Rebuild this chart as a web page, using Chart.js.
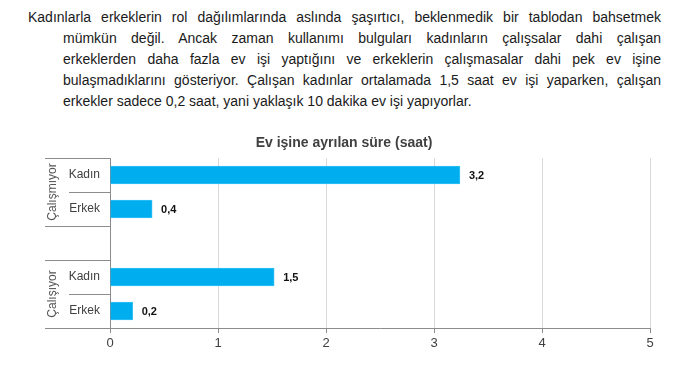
<!DOCTYPE html>
<html>
<head>
<meta charset="utf-8">
<script src="https://cdn.jsdelivr.net/npm/chart.js@4.4.1/dist/chart.umd.min.js"></script>
<style>
    body { margin:0; background:#fff; width:697px; height:379px; overflow:hidden; position:relative; }
    .txt { position:absolute; left:28px; top:7px; width:633px; font-family:"Liberation Sans", Arial, sans-serif; font-size:14px; line-height:21px; color:#1a1a1a; }
    .txt div { text-align:justify; text-align-last:justify; white-space:nowrap; }
    .txt div.in { padding-left:35px; white-space:normal; }
    .txt div.last { text-align-last:left; }
    #wrap { position:absolute; left:0; top:125px; width:697px; height:254px; }
</style>
</head>
<body>

<div class="txt">
    <div style="white-space:normal">Kadınlarla erkeklerin rol dağılımlarında aslında şaşırtıcı, beklenmedik bir tablodan bahsetmek</div>
    <div class="in">mümkün değil. Ancak zaman kullanımı bulguları kadınların çalışsalar dahi çalışan</div>
    <div class="in">erkeklerden daha fazla ev işi yaptığını ve erkeklerin çalışmasalar dahi pek ev işine</div>
    <div class="in">bulaşmadıklarını gösteriyor. Çalışan kadınlar ortalamada 1,5 saat ev işi yaparken, çalışan</div>
    <div class="in last">erkekler sadece 0,2 saat, yani yaklaşık 10 dakika ev işi yapıyorlar.</div>
</div>

<div id="wrap"><canvas id="chart"></canvas></div>

<script>
// ===============================
// Data
// ===============================

const chartTitle = "Ev işine ayrılan süre (saat)";
const categories = ["Kadın", "Erkek", "", "Kadın", "Erkek"];
const hours = [3.24, 0.39, null, 1.52, 0.21];
const groupLabels = ["Çalışmıyor", "Çalışıyor"];
const groupStart = [0, 3];
const groupEnd = [1, 4];
const xTicks = [0, 1, 2, 3, 4, 5];

const fontFamily = '"Liberation Sans", Arial, sans-serif';

// ===============================
// Extras: title, group labels, separators, value labels
// ===============================

const extras = {
    id: "extras",
    afterDraw(chart){

        const ctx = chart.ctx;
        const y = chart.scales.y;
        const area = chart.chartArea;
        const half = (y.getPixelForValue(1) - y.getPixelForValue(0)) / 2;

        ctx.save();

        // title
        ctx.fillStyle = "#404040";
        ctx.font = "bold 14px " + fontFamily;
        ctx.textAlign = "center";
        ctx.textBaseline = "middle";
        ctx.fillText(chartTitle, 344, 18);

        // separators left of the axis
        ctx.strokeStyle = "#8c8c8c";
        ctx.lineWidth = 1;
        for(let k = 0; k <= categories.length; k++){
            const by = Math.round(y.getPixelForValue(k) - half) + 0.5;
            let x0 = null;
            if(groupStart.includes(k) || groupEnd.includes(k-1)) x0 = 45;
            else if(k > 0 && k < categories.length && categories[k] !== "" && categories[k-1] !== "") x0 = 69;
            if(x0 === null) continue;
            ctx.beginPath();
            ctx.moveTo(x0, by);
            ctx.lineTo(area.left, by);
            ctx.stroke();
        }

        // group labels
        ctx.fillStyle = "#555";
        ctx.font = "12px " + fontFamily;
        groupLabels.forEach((g, i)=>{
            const cy = (y.getPixelForValue(groupStart[i]) + y.getPixelForValue(groupEnd[i])) / 2;
            ctx.save();
            ctx.translate(53, cy);
            ctx.rotate(-Math.PI/2);
            ctx.fillText(g, 0, 0);
            ctx.restore();
        });

        // value labels
        ctx.fillStyle = "#111";
        ctx.font = "bold 11px " + fontFamily;
        ctx.textAlign = "left";
        chart.getDatasetMeta(0).data.forEach((bar, i)=>{
            if(hours[i] === null) return;
            ctx.fillText(hours[i].toFixed(1).replace(".", ","), bar.x + 9, bar.y + 1);
        });

        ctx.restore();
    }
};

// ===============================
// Chart
// ===============================

const chart = new Chart(document.getElementById("chart"), {
    type: "bar",
    data: {
        labels: categories,
        datasets: [{
            data: hours,
            backgroundColor: "#00aeef",
            borderColor: "#33c0f2",
            borderWidth: 1,
            barThickness: 18
        }]
    },
    options: {
        indexAxis: "y",
        responsive: true,
        maintainAspectRatio: false,
        animation: false,
        layout: { padding: { top: 33, right: 47, left: 0, bottom: 0 } },
        plugins: {
            legend: { display: false },
            tooltip: { enabled: false }
        },
        scales: {
            x: {
                min: 0,
                max: 5,
                afterBuildTicks: (s)=>{ s.ticks = xTicks.map(v=>({ value: v })); },
                afterFit: (s)=>{ s.height = 51; },
                grid: { color: "#d9d9d9", tickColor: "#8c8c8c", tickLength: 5, drawOnChartArea: true },
                border: { color: "#8c8c8c" },
                ticks: { color: "#404040", padding: 3, font: { family: fontFamily, size: 13 } }
            },
            y: {
                afterFit: (s)=>{ s.width = 110; },
                grid: { display: false, tickLength: 0 },
                border: { color: "#8c8c8c" },
                ticks: { color: "#404040", padding: 10, font: { family: fontFamily, size: 12 } }
            }
        }
    },
    plugins: [extras]
});
</script>
</body>
</html>
